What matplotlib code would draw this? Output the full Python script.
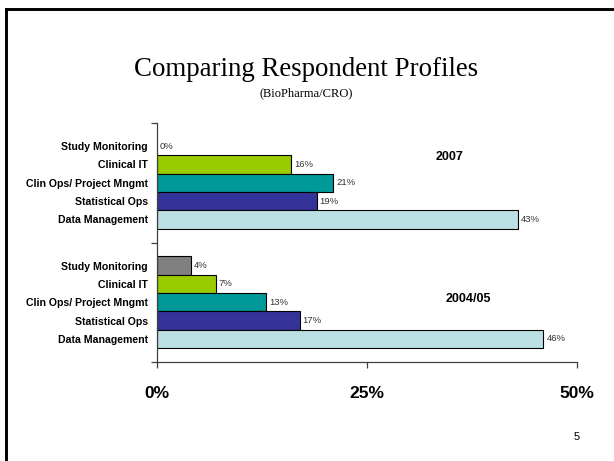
import matplotlib.pyplot as plt
from matplotlib.lines import Line2D

# Data
categories = ['Study Monitoring', 'Clinical IT', 'Clin Ops/ Project Mngmt',
              'Statistical Ops', 'Data Management']
values_2007 = [0, 16, 21, 19, 43]
values_2004 = [4, 7, 13, 17, 46]
groups = ['2007', '2004/05']
colors = ['#808080', '#99CC00', '#009999', '#333399', '#BBE0E3']
xticks = [0, 25, 50]

plt.rcParams['font.family'] = ['Liberation Sans', 'DejaVu Sans']

fig = plt.figure(figsize=(6.14, 4.61), dpi=100)
W, H = 614, 461
ax = fig.add_axes([157 / W, 1 - 362 / H, (577 - 157) / W, (362 - 123) / H])

# slide frame (left and top edge)
fig.add_artist(Line2D([6 / W, 6 / W], [0, 1 - 9 / H], color='black', lw=2.1,
                      transform=fig.transFigure))
fig.add_artist(Line2D([6 / W, 1], [1 - 9 / H, 1 - 9 / H], color='black', lw=2.1,
                      transform=fig.transFigure))

bar_h = 0.1533
pad = (1 - len(categories) * bar_h) / 2
centers = []
labels = []
for g, vals in enumerate([values_2007, values_2004]):
    top = 2 - g
    for i, (cat, v) in enumerate(zip(categories, vals)):
        y = top - pad - bar_h / 2 - i * bar_h
        centers.append(y)
        labels.append(cat)
        if v > 0:
            ax.barh(y, v, height=bar_h, color=colors[i], edgecolor='black', linewidth=0.8)
        ax.text(v + 0.35, y, f'{v}%', va='center', ha='left', fontsize=6.8, color='#333333')

ax.text(34.8, 1.717, groups[0], ha='center', va='center', fontsize=9, fontweight='bold')
ax.text(37.1, 0.525, groups[1], ha='center', va='center', fontsize=9, fontweight='bold')

ax.set_xlim(0, 50)
ax.set_ylim(0, 2)
ax.set_xticks(xticks)
ax.set_xticklabels([f'{t}%' for t in xticks], fontsize=12.5, fontweight='bold')
ax.tick_params(axis='x', direction='out', length=4.3, width=0.9, pad=13, color='#404040')
ax.set_yticks([0, 1, 2])
ax.set_yticklabels([])
ax.tick_params(axis='y', which='major', direction='out', length=4.3, width=0.9, color='#404040')
ax.set_yticks(centers, minor=True)
ax.set_yticklabels(labels, minor=True, fontsize=7.6, fontweight='bold')
ax.tick_params(axis='y', which='minor', length=0, pad=6.5)

for s in ['top', 'right']:
    ax.spines[s].set_visible(False)
for s in ['left', 'bottom']:
    ax.spines[s].set_color('#404040')
    ax.spines[s].set_linewidth(0.9)

fig.text(306 / W, 1 - 70 / H, 'Comparing Respondent Profiles', ha='center', va='center',
         fontsize=19.4, family='Liberation Serif')
fig.text(306 / W, 1 - 93 / H, '(BioPharma/CRO)', ha='center', va='center',
         fontsize=9, family='Liberation Serif')
fig.text(577 / W, 1 - 437 / H, '5', ha='center', va='center', fontsize=8)

fig.savefig('out.png', dpi=100)
